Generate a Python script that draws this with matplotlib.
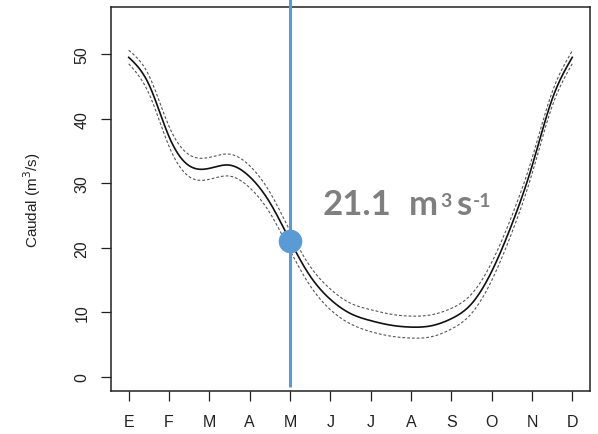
import numpy as np
import matplotlib
matplotlib.use("Agg")
import matplotlib.pyplot as plt

# Mean monthly discharge curve (month index 1 = Jan ... 12 = Dec), half-month steps
month_pos = [1.0, 1.5, 2.0, 2.5, 3.0, 3.5, 4.0, 4.5, 5.0, 5.5, 6.0, 6.5,
             7.0, 7.5, 8.0, 8.5, 9.0, 9.5, 10.0, 10.5, 11.0, 11.5, 12.0]
caudal = [49.5, 45.3, 37.2, 32.7, 32.3, 32.8, 31.0, 27.0, 21.1, 15.6, 12.0, 9.8,
          8.7, 8.0, 7.7, 7.9, 9.0, 11.3, 16.3, 23.6, 32.6, 43.0, 49.5]
caudal_hi = [50.6, 46.7, 38.8, 34.4, 34.0, 34.5, 32.7, 28.6, 22.6, 17.1, 13.6, 11.4,
             10.4, 9.7, 9.4, 9.6, 10.6, 12.8, 17.7, 24.9, 33.8, 44.1, 50.5]
caudal_lo = [48.5, 43.9, 35.7, 31.0, 30.6, 31.1, 29.3, 25.4, 19.6, 14.1, 10.4, 8.2,
             7.0, 6.3, 6.0, 6.2, 7.4, 9.8, 14.9, 22.3, 31.4, 41.9, 48.5]

month_ticks = list(range(1, 13))
month_labels = ["E", "F", "M", "A", "M", "J", "J", "A", "S", "O", "N", "D"]
y_ticks = [0, 10, 20, 30, 40, 50]

mark_month = 5
mark_value = 21.1
# value label runs: (text, superscript?) and their horizontal offsets in px
mark_parts = [("21.1", False), ("m", False), ("3", True), ("s", False), ("-1", True)]
mark_offsets = [0, 86, 117, 133, 150]


def spline(x, y, xs):
    """Natural cubic spline through (x, y), evaluated at xs."""
    x = np.asarray(x, float)
    y = np.asarray(y, float)
    n = len(x)
    h = np.diff(x)
    A = np.zeros((n, n))
    b = np.zeros(n)
    A[0, 0] = A[-1, -1] = 1.0
    for i in range(1, n - 1):
        A[i, i - 1] = h[i - 1]
        A[i, i] = 2 * (h[i - 1] + h[i])
        A[i, i + 1] = h[i]
        b[i] = 3 * ((y[i + 1] - y[i]) / h[i] - (y[i] - y[i - 1]) / h[i - 1])
    c = np.linalg.solve(A, b)
    idx = np.clip(np.searchsorted(x, xs) - 1, 0, n - 2)
    dx = xs - x[idx]
    bb = (y[idx + 1] - y[idx]) / h[idx] - h[idx] * (2 * c[idx] + c[idx + 1]) / 3
    dd = (c[idx + 1] - c[idx]) / (3 * h[idx])
    return y[idx] + bb * dx + c[idx] * dx ** 2 + dd * dx ** 3


plt.rcParams["font.family"] = ["Liberation Sans", "DejaVu Sans"]

W, H, DPI = 598, 435, 100
fig = plt.figure(figsize=(W / DPI, H / DPI), dpi=DPI)
ax = fig.add_axes([111 / W, 1 - 392 / H, 479 / W, 384 / H])

xs = np.linspace(month_pos[0], month_pos[-1], 400)
ax.plot(xs, spline(month_pos, caudal_hi, xs), color="#555555", lw=0.8,
        dashes=(2.5, 1.8))
ax.plot(xs, spline(month_pos, caudal_lo, xs), color="#555555", lw=0.8,
        dashes=(2.5, 1.8))
ax.plot(xs, spline(month_pos, caudal, xs), color="#111111", lw=1.2)

ax.set_xlim(0.56, 12.44)
ax.set_ylim(-2.2, 57.3)

ax.set_xticks(month_ticks)
ax.set_xticklabels(month_labels)
ax.set_yticks(y_ticks)
ax.set_yticklabels([str(v) for v in y_ticks], rotation=90, va="center")
ax.tick_params(axis="both", direction="out", length=7.5, width=0.9,
               color="#222222", labelsize=11.5, labelcolor="#222222")
ax.tick_params(axis="x", pad=9)
ax.tick_params(axis="y", pad=8)
for s in ax.spines.values():
    s.set_linewidth(1.1)
    s.set_color("#222222")

ax.set_ylabel("Caudal (m$^3$/s)", fontsize=11, color="#222222")
ax.yaxis.set_label_coords(-0.142, 0.50)

# Highlighted value: vertical marker line running off the top of the panel
blue = "#5B9BD5"
ax.plot([mark_month, mark_month], [-1.6, 62], color=blue, lw=2.2,
        clip_on=False, solid_capstyle="butt", zorder=5)
ax.plot([mark_month], [mark_value], "o", color=blue, ms=16, zorder=6,
        clip_on=False)

# Value label, laid out run by run with raised superscripts
x0, y0 = ax.transData.transform((5.82, 25.2))
for (txt, sup), dx in zip(mark_parts, mark_offsets):
    fig.text((x0 + dx) / W, (y0 + (8 if sup else 0)) / H, txt,
             family="Lato", weight="bold", color="#7f7f7f",
             fontsize=14 if sup else 25, ha="left", va="baseline")

fig.savefig("out.png", dpi=DPI)
